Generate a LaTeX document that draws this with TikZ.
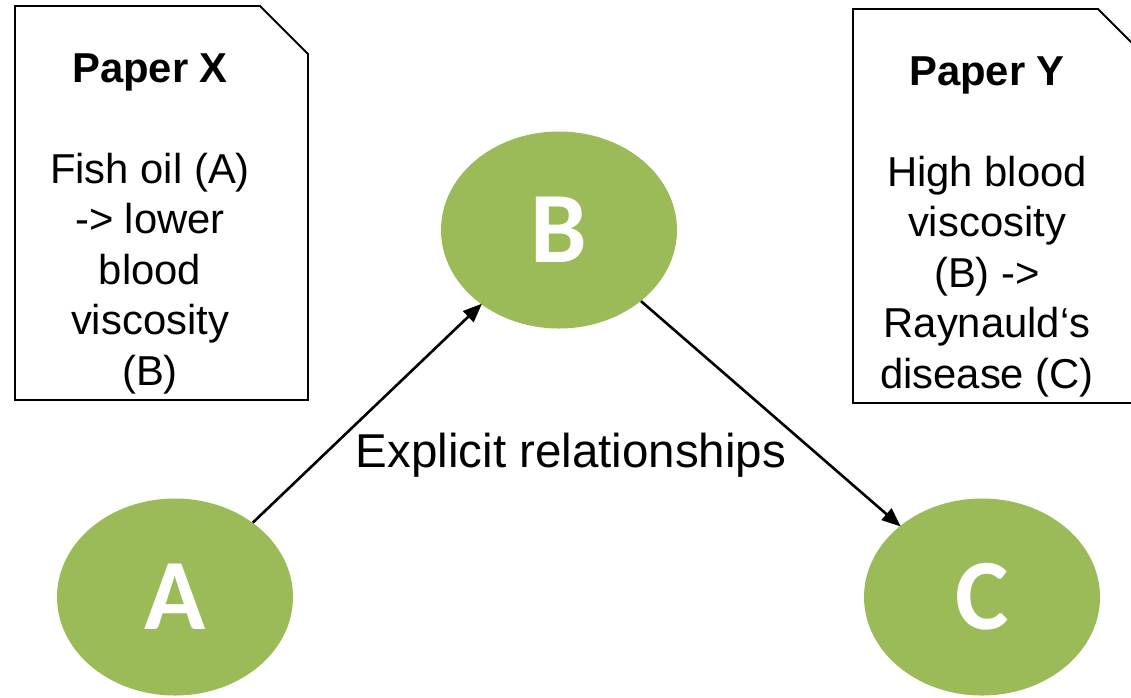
\documentclass[tikz,border=0pt]{standalone}
\usepackage{fontspec}
\setmainfont{Liberation Sans}
\newfontfamily\letterfont{Carlito}
\usetikzlibrary{shapes.geometric,arrows.meta}
\definecolor{leafgreen}{HTML}{9BBB59}
\tikzset{
  concept/.style={ellipse, fill=leafgreen, draw=none, minimum width=236pt,
    minimum height=197pt, inner sep=0pt, text=white,
    font=\letterfont\bfseries\fontsize{101}{101}\selectfont},
  paper/.style={draw=black, line width=1.8pt, line join=miter},
  papertext/.style={align=center, inner sep=0pt, anchor=north,
    font=\fontsize{41.8}{50.5}\selectfont},
  relarrow/.style={draw=black, line width=2.6pt,
    -{Triangle[length=19pt,width=15pt]}, shorten >=-1pt},
  rellabel/.style={inner sep=0pt, anchor=base, font=\fontsize{47.5}{50}\selectfont}
}
\begin{document}
\begin{tikzpicture}[x=1pt,y=-1pt]
  \useasboundingbox (0,0) rectangle (1131,697);

  % the two paper sheets with a folded top-right corner
  \draw[paper] (15,6) -- (260,6) -- (308,54) -- (308,400) -- (15,400) -- cycle;
  \draw[paper] (853,9) -- (1098,9) -- (1146,57) -- (1146,403) -- (853,403) -- cycle;

  \node[papertext] (paperX) at (150,53.5)
    {\textbf{Paper X}\\[50.5pt]Fish oil (A)\\-> lower\\blood\\viscosity\\(B)};
  \node[papertext] (paperY) at (987,56.5)
    {\textbf{Paper Y}\\[50.5pt]High blood\\viscosity\\(B) ->\\Raynauld‘s\\disease (C)};

  % concepts
  \node[concept] (A) at (175,597) {A};
  \node[concept] (B) at (559,230) {B};
  \node[concept] (C) at (982,597) {C};

  % explicit relationships
  \draw[relarrow] (A) -- (B);
  \draw[relarrow] (B) -- (C);
  \node[rellabel] (rel) at (571,467) {Explicit relationships};
\end{tikzpicture}
\end{document}
